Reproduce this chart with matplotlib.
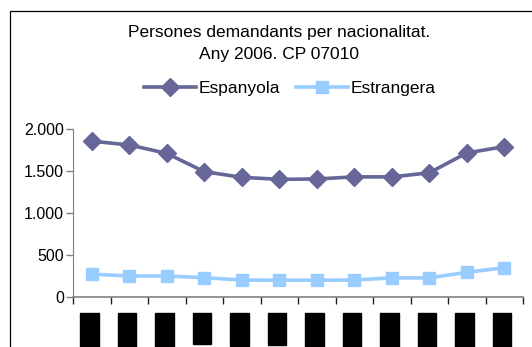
import matplotlib
matplotlib.use("Agg")
import matplotlib.pyplot as plt
from matplotlib.patches import Rectangle
import numpy as np

plt.rcParams['font.family'] = ['Liberation Sans', 'DejaVu Sans']

months = ["Gener", "Febrer", "Març", "Abril", "Maig", "Juny",
          "Juliol", "Agost", "Setembre", "Octubre", "Novembre", "Desembre"]
espanyola = [1855, 1810, 1710, 1492, 1425, 1401, 1405, 1430, 1430, 1478, 1715, 1790]
estrangera = [272, 250, 250, 230, 202, 200, 200, 202, 228, 228, 294, 348]
y_ticks = [0, 500, 1000, 1500, 2000]
y_tick_labels = ["0", "500", "1.000", "1.500", "2.000"]

W, H = 532, 347
fig = plt.figure(figsize=(W / 100, H / 100), dpi=100)

# chart-area frame
fig.patches.append(Rectangle((10 / W, -0.05), 1.1, 1 - 11 / H + 0.05,
                             transform=fig.transFigure, fill=False,
                             edgecolor='black', linewidth=0.9))

ax = fig.add_axes([73 / W, 1 - 297 / H, (523 - 73) / W, (297 - 129) / H])
x = np.arange(len(months))

c1 = '#666699'
c2 = '#99CCFF'
ax.plot(x, espanyola, color=c1, lw=2.6, marker='D', ms=9, label='Espanyola')
ax.plot(x, estrangera, color=c2, lw=2.6, marker='s', ms=8, label='Estrangera')

ax.set_xlim(-0.5, len(months) - 0.5)
ax.set_ylim(0, 2000)
ax.set_yticks(y_ticks)
ax.set_yticklabels(y_tick_labels, fontsize=11.5)
ax.tick_params(axis='y', direction='out', length=5, width=1, color='#808080', pad=1.5)

ax.set_xticks(np.arange(-0.5, len(months)), minor=True)
ax.set_xticks(x)
ax.set_xticklabels([])
ax.tick_params(axis='x', which='major', length=0)
ax.tick_params(axis='x', which='minor', direction='out', length=5, width=1, color='#202020')

for s in ['top', 'right']:
    ax.spines[s].set_visible(False)
ax.spines['left'].set_color('#808080')
ax.spines['bottom'].set_color('#808080')
ax.spines['bottom'].set_linewidth(1.2)

# rotated month labels on dark boxes
for xi, m in zip(x, months):
    ax.annotate(m, xy=(xi - 0.06, 0), xycoords=('data', 'axes fraction'),
                xytext=(0, -13.5), textcoords='offset points',
                rotation=90, ha='center', va='top', fontsize=9, color='black',
                bbox=dict(boxstyle='square,pad=0.25', facecolor='black', edgecolor='black'),
                annotation_clip=False)

fig.text(279 / W, 1 - 32 / H, "Persones demandants per nacionalitat.",
         ha='center', va='center', fontsize=12.5)
fig.text(279 / W, 1 - 55 / H, "Any 2006. CP 07010",
         ha='center', va='center', fontsize=12.5)

fig.legend(loc='center', bbox_to_anchor=(290 / W, 1 - 88 / H), ncol=2,
           frameon=False, fontsize=12.5, handlelength=3.0, handletextpad=0.15,
           columnspacing=0.9, borderpad=0)

fig.savefig("out.png", dpi=100)
